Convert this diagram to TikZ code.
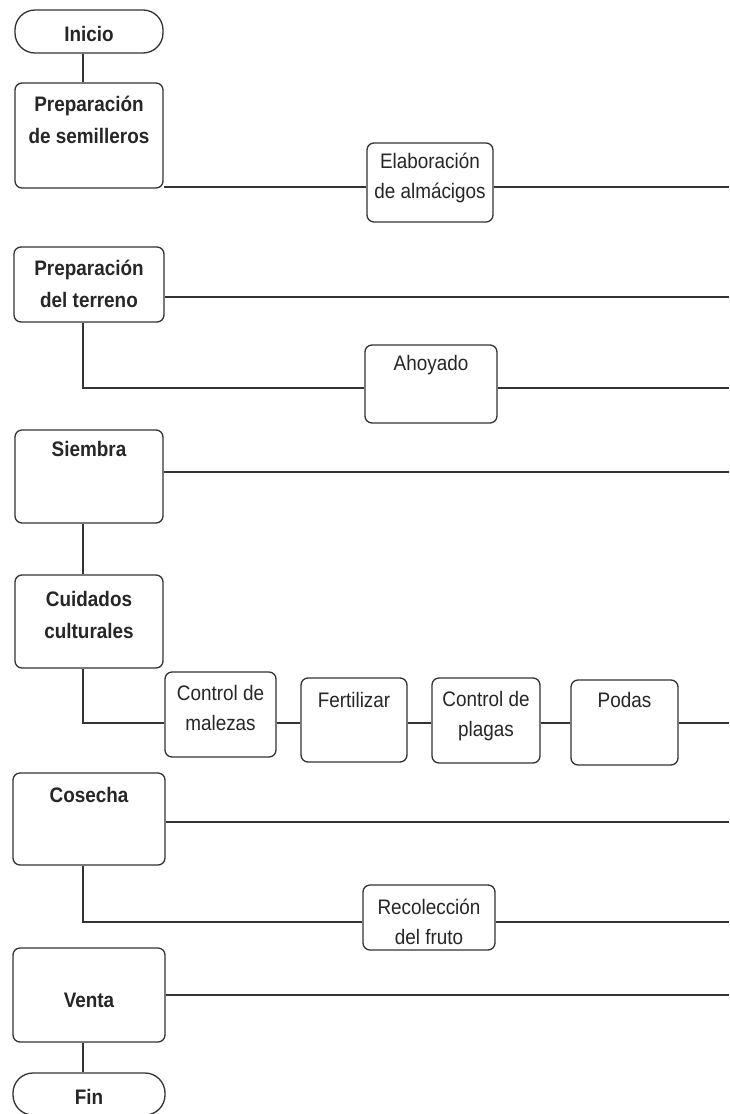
\documentclass[tikz,border=0pt]{standalone}
\usepackage{fontspec}
\setmainfont[FakeStretch=0.9]{Liberation Sans}
\begin{document}
\begin{tikzpicture}[x=1pt,y=-1pt,
  box/.style={draw=black!80, line width=1.3pt, rounded corners=7pt, inner sep=0pt, fill=white},
  term/.style={draw=black!80, line width=1.3pt, rounded corners=20pt, inner sep=0pt, fill=white},
  btxt/.style={font=\fontsize{21}{32}\selectfont\bfseries, align=center, inner sep=0pt, text=black!85},
  rtxt/.style={font=\fontsize{21}{30}\selectfont, align=center, inner sep=0pt, text=black!85},
  conn/.style={draw=black!80, line width=1.3pt}]
\useasboundingbox (0,0) rectangle (729,1114);
\coordinate (vx) at (83,0);
\coordinate (R) at (729,0);
\coordinate (l1) at (0,187);
\coordinate (l2) at (0,297);
\coordinate (l3) at (0,388);
\coordinate (l4) at (0,472);
\coordinate (l5) at (0,723);
\coordinate (l6) at (0,822);
\coordinate (l7) at (0,922);
\coordinate (l8) at (0,995);
% main column
\node[term, minimum width=148, minimum height=43] (inicio) at (89,31.5) {};
\node[btxt] (inicio-t) at (89,34) {Inicio};
\node[box, minimum width=148, minimum height=105] (semi) at (89,135.5) {};
\node[btxt] (semi-t) at (89,120) {Preparación\\de semilleros};
\node[box, minimum width=150, minimum height=75] (terr) at (89,284.5) {};
\node[btxt] (terr-t) at (89,284) {Preparación\\del terreno};
\node[box, minimum width=148, minimum height=93] (siem) at (89,476.5) {};
\node[btxt] (siem-t) at (89,449) {Siembra};
\node[box, minimum width=148, minimum height=93] (cuid) at (89,621.5) {};
\node[btxt] (cuid-t) at (89,615) {Cuidados\\culturales};
\node[box, minimum width=152, minimum height=92] (cose) at (89,819) {};
\node[btxt] (cose-t) at (89,795) {Cosecha};
\node[box, minimum width=152, minimum height=94] (vent) at (89,995) {};
\node[btxt] (vent-t) at (89,1000) {Venta};
\node[term, minimum width=152, minimum height=42] (fin) at (89,1094) {};
\node[btxt] (fin-t) at (89,1097) {Fin};
% sub boxes
\node[box, minimum width=126, minimum height=79] (elab) at (430,182.5) {};
\node[rtxt] (elab-t) at (430,178) {Elaboración\\de almácigos};
\node[box, minimum width=132, minimum height=78] (ahoy) at (431,384) {};
\node[rtxt] (ahoy-t) at (431,365) {Ahoyado};
\node[box, minimum width=111, minimum height=85] (male) at (220.5,714.5) {};
\node[rtxt] (male-t) at (220.5,708) {Control de\\malezas};
\node[box, minimum width=106, minimum height=84] (fert) at (354,720) {};
\node[rtxt] (fert-t) at (354,700) {Fertilizar};
\node[box, minimum width=108, minimum height=85] (plag) at (486,720.5) {};
\node[rtxt] (plag-t) at (486,716) {Control de\\plagas};
\node[box, minimum width=107, minimum height=85] (poda) at (624.5,722.5) {};
\node[rtxt] (poda-t) at (624.5,700) {Podas};
\node[box, minimum width=132, minimum height=65] (reco) at (429,917.5) {};
\node[rtxt] (reco-t) at (429,922) {Recolección\\del fruto};
% connectors
\path[conn] (inicio.south -| vx) -- (semi.north -| vx);
\path[conn] (semi.east |- l1) -- (elab.west |- l1);
\path[conn] (elab.east |- l1) -- (R |- l1);
\path[conn] (terr.east |- l2) -- (R |- l2);
\path[conn] (terr.south -| vx) -- (vx |- l3) -- (ahoy.west |- l3);
\path[conn] (ahoy.east |- l3) -- (R |- l3);
\path[conn] (siem.east |- l4) -- (R |- l4);
\path[conn] (siem.south -| vx) -- (cuid.north -| vx);
\path[conn] (cuid.south -| vx) -- (vx |- l5) -- (male.west |- l5);
\path[conn] (male.east |- l5) -- (fert.west |- l5);
\path[conn] (fert.east |- l5) -- (plag.west |- l5);
\path[conn] (plag.east |- l5) -- (poda.west |- l5);
\path[conn] (poda.east |- l5) -- (R |- l5);
\path[conn] (cose.east |- l6) -- (R |- l6);
\path[conn] (cose.south -| vx) -- (vx |- l7) -- (reco.west |- l7);
\path[conn] (reco.east |- l7) -- (R |- l7);
\path[conn] (vent.east |- l8) -- (R |- l8);
\path[conn] (vent.south -| vx) -- (fin.north -| vx);
\end{tikzpicture}
\end{document}
